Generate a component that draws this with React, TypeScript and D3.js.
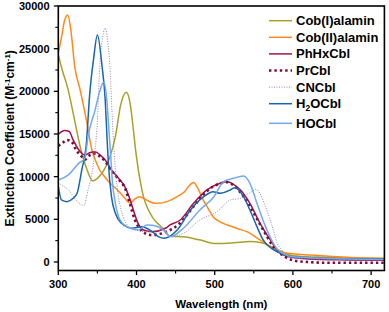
import React from "react";
import * as d3 from "d3";

// wavelength (nm) / extinction coefficient pairs
const cob1Wl = [300, 305, 312, 320, 328, 336, 344, 350, 358, 366, 373, 380, 387, 392, 396, 399, 407, 420, 432, 443, 460, 480, 503, 525, 545, 560, 572, 584, 595, 610, 640, 680, 717];
const cob1Eps = [24300, 22500, 20400, 17000, 13500, 11000, 9500, 9800, 10700, 12300, 14700, 18500, 19900, 18500, 15500, 13000, 8400, 5300, 4100, 3000, 2950, 2600, 2150, 2250, 2400, 2250, 1800, 1300, 850, 650, 550, 450, 400];

const cob2Wl = [300, 304, 308, 312, 316, 321, 328, 336, 343, 348, 353, 360, 366, 375, 383, 392, 398, 404, 412, 420, 426, 440, 452, 462, 468, 473, 478, 485, 492, 498, 507, 516, 530, 541, 558, 575, 584, 600, 622, 650, 686, 717];
const cob2Eps = [24500, 26300, 28300, 28950, 27200, 22900, 20150, 16600, 13100, 11800, 10780, 9900, 9250, 8500, 7700, 6900, 7400, 7650, 7300, 6950, 6880, 7100, 7650, 8300, 9000, 9300, 8700, 7300, 6200, 5300, 4700, 4340, 3900, 3550, 2580, 1600, 1200, 950, 820, 650, 500, 400];

const phhxWl = [300, 308, 314, 319, 325, 330, 334, 340, 347, 354, 360, 368, 377, 385, 392, 396, 402, 409, 420, 437, 443, 456, 473, 490, 507, 516, 524, 533, 545, 558, 571, 582, 595, 620, 660, 717];
const phhxEps = [14960, 15400, 15300, 14300, 13300, 12740, 12540, 12800, 12930, 12500, 11950, 10780, 9810, 8830, 7270, 6090, 4530, 3750, 3550, 3950, 4340, 4920, 6880, 8440, 9220, 9400, 9100, 8440, 6880, 4530, 2580, 1200, 600, 350, 250, 200];

const prWl = [300, 306, 311, 317, 323, 330, 334, 340, 347, 354, 360, 368, 377, 386, 392, 398, 405, 411, 420, 437, 455, 473, 490, 507, 516, 525, 537, 550, 562, 575, 590, 610, 650, 717];
const prEps = [13600, 14000, 14300, 14100, 13100, 12340, 12000, 12500, 12700, 12300, 11800, 10700, 9700, 8500, 6680, 4920, 3800, 3360, 3160, 3500, 4500, 6500, 8300, 9200, 9350, 8900, 7650, 5700, 3750, 1800, 600, 50, -100, -100];

const cnWl = [300, 304, 313, 321, 330, 333, 338, 343, 347, 350, 353, 357, 360, 363, 366, 370, 373, 377, 383, 390, 398, 415, 432, 443, 460, 481, 503, 520, 533, 545, 553, 558, 565, 575, 580, 585, 595, 620, 660, 717];
const cnEps = [9300, 9020, 8440, 7460, 6680, 6650, 8440, 10400, 13130, 16500, 22900, 26500, 27400, 26000, 22900, 15000, 10800, 7650, 5300, 4140, 3750, 3550, 3750, 2970, 3360, 4920, 5900, 7270, 7460, 8100, 8500, 8000, 6480, 3750, 2190, 1500, 620, 350, 300, 250];

const h2oWl = [300, 304, 311, 319, 324, 330, 336, 340, 345, 350, 356, 360, 362, 364, 368, 373, 381, 394, 407, 420, 428, 435, 452, 469, 486, 498, 507, 520, 526, 537, 545, 554, 562, 580, 600, 640, 717];
const h2oEps = [8900, 7270, 7070, 7460, 8050, 10780, 14000, 19500, 23700, 26600, 22900, 19000, 15100, 11600, 7650, 5700, 4530, 3950, 4140, 3550, 2970, 2770, 3750, 6090, 7650, 8240, 8050, 8440, 8710, 7650, 6090, 4140, 2580, 1200, 620, 450, 350];

const hoWl = [300, 313, 326, 334, 338, 347, 353, 358, 362, 365, 367, 369, 373, 379, 388, 402, 413, 420, 437, 443, 460, 481, 499, 511, 524, 537, 545, 554, 565, 575, 581, 600, 650, 717];
const hoEps = [9610, 10200, 11560, 12150, 14700, 17800, 20000, 21100, 19000, 15100, 12500, 9600, 6880, 4920, 4140, 3750, 4340, 4300, 3550, 2970, 3950, 6090, 7650, 9400, 9810, 10080, 9220, 6880, 4140, 2190, 1400, 600, 400, 300];

const xTicks = [300, 400, 500, 600, 700];
const yTicks = [0, 5000, 10000, 15000, 20000, 25000, 30000];

const series = [
  { name: "Cob(I)alamin", wl: cob1Wl, eps: cob1Eps, color: "#a9a12a", width: 1.5, dash: "" },
  { name: "Cob(II)alamin", wl: cob2Wl, eps: cob2Eps, color: "#ff8a1c", width: 1.5, dash: "" },
  { name: "PhHxCbl", wl: phhxWl, eps: phhxEps, color: "#a3124f", width: 1.5, dash: "" },
  { name: "PrCbl", wl: prWl, eps: prEps, color: "#7a0a3a", width: 2.6, dash: "2.4 3" },
  { name: "CNCbl", wl: cnWl, eps: cnEps, color: "#a07fb0", width: 1, dash: "1 1.5" },
  { name: "H2OCbl", wl: h2oWl, eps: h2oEps, color: "#1766ae", width: 1.5, dash: "" },
  { name: "HOCbl", wl: hoWl, eps: hoEps, color: "#72aaec", width: 1.5, dash: "" },
];

const W = 389;
const H = 312;
const left = 58.3, right = 384.4, top = 6, bottom = 270.5;

export default function App() {
  const x = d3.scaleLinear().domain([300, 717]).range([left, right]);
  const y = d3.scaleLinear().domain([-1000, 30000]).range([bottom, top]);

  const line = d3
    .line<[number, number]>()
    .x((d) => x(d[0]))
    .y((d) => y(d[1]))
    .curve(d3.curveMonotoneX);

  const font = "'Liberation Sans', Arial, sans-serif";
  const minorX = d3.range(350, 717, 100);
  const minorY = d3.range(2500, 30000, 5000);

  return (
    <svg width={W} height={H} style={{ position: "absolute", left: 0, top: 0 }} fontFamily={font}>
      <rect width={W} height={H} fill="#fff" />
      <defs>
        <clipPath id="plot">
          <rect x={left} y={top} width={right - left} height={bottom - top} />
        </clipPath>
      </defs>

      <g clipPath="url(#plot)">
        {series.map((s) => (
          <path
            key={s.name}
            d={line(s.wl.map((w, i) => [w, s.eps[i]]) as [number, number][]) || ""}
            fill="none"
            stroke={s.color}
            strokeWidth={s.width}
            strokeDasharray={s.dash || undefined}
          />
        ))}
      </g>

      {/* frame */}
      <rect x={left} y={top} width={right - left} height={bottom - top} fill="none" stroke="#000" strokeWidth={1.6} />

      {/* x axis ticks */}
      {xTicks.map((t) => (
        <g key={"x" + t}>
          <line x1={x(t)} x2={x(t)} y1={bottom} y2={bottom + 4.5} stroke="#000" strokeWidth={1.3} />
          <text x={x(t)} y={288} textAnchor="middle" fontSize={11} fontWeight="bold">
            {t}
          </text>
        </g>
      ))}
      {minorX.map((t) => (
        <line key={"mx" + t} x1={x(t)} x2={x(t)} y1={bottom} y2={bottom + 3} stroke="#000" strokeWidth={1.1} />
      ))}

      {/* y axis ticks */}
      {yTicks.map((t) => (
        <g key={"y" + t}>
          <line x1={left - 4.5} x2={left} y1={y(t)} y2={y(t)} stroke="#000" strokeWidth={1.3} />
          <text x={49.5} y={y(t) + 4} textAnchor="end" fontSize={11} fontWeight="bold">
            {t}
          </text>
        </g>
      ))}
      {minorY.map((t) => (
        <line key={"my" + t} x1={left - 3} x2={left} y1={y(t)} y2={y(t)} stroke="#000" strokeWidth={1.1} />
      ))}

      {/* axis titles */}
      <text x={(left + right) / 2} y={308} textAnchor="middle" fontSize={11.5} fontWeight="bold">
        Wavelength (nm)
      </text>
      <text
        transform={`translate(14,${(top + bottom) / 2}) rotate(-90)`}
        textAnchor="middle"
        fontSize={12}
        fontWeight="bold"
      >
        Extinction Coefficient (M
        <tspan fontSize={8} dy={-4.5}>-1</tspan>
        <tspan dy={4.5}>cm</tspan>
        <tspan fontSize={8} dy={-4.5}>-1</tspan>
        <tspan dy={4.5}>)</tspan>
      </text>

      {/* legend */}
      {series.map((s, i) => {
        const cy = 20.7 + i * 16.6 + (i === 6 ? 3 : 0);
        return (
          <g key={"lg" + s.name}>
            <line x1={269} x2={292} y1={cy} y2={cy} stroke={s.color} strokeWidth={s.width} strokeDasharray={s.dash || undefined} />
            <text x={296} y={cy + 4.5} fontSize={13} fontWeight="bold">
              {s.name === "H2OCbl" ? (
                <>
                  H<tspan fontSize={8.5} dy={3}>2</tspan>
                  <tspan dy={-3}>OCbl</tspan>
                </>
              ) : (
                s.name
              )}
            </text>
          </g>
        );
      })}
    </svg>
  );
}
